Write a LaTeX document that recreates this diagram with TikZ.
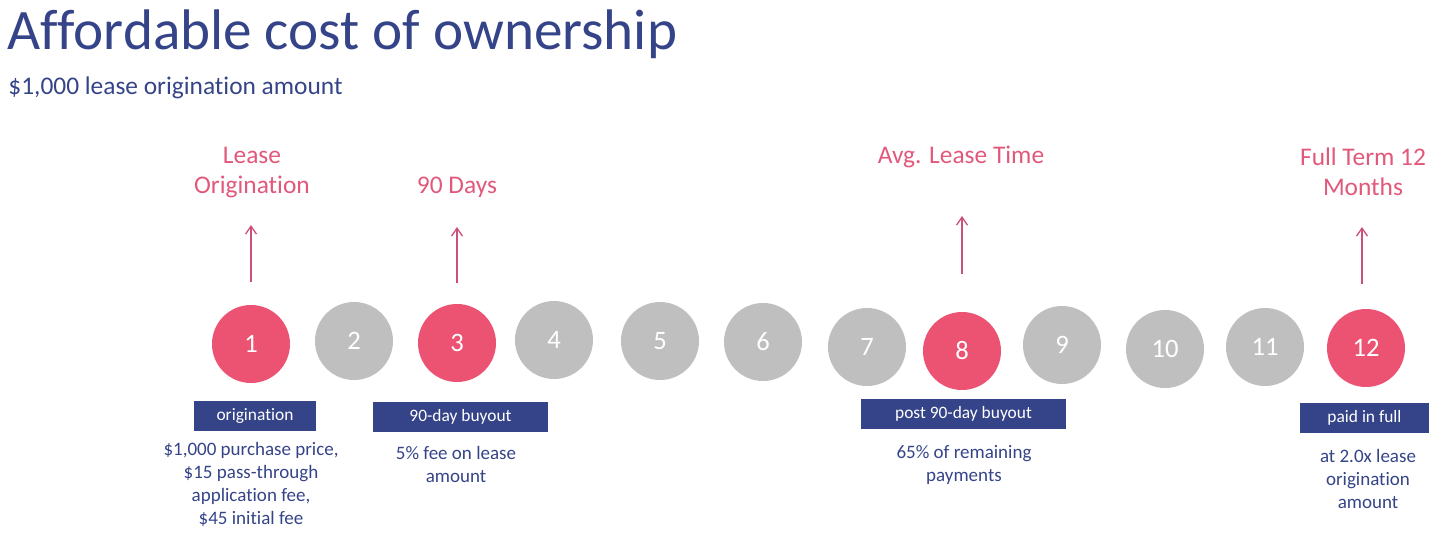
\documentclass[tikz,border=0pt]{standalone}
\usepackage{fontspec}
\setmainfont{Carlito}[Ligatures=NoCommon]
\usetikzlibrary{arrows.meta}

\definecolor{navy}{RGB}{53,68,136}
\definecolor{rose}{RGB}{236,82,114}
\definecolor{roseText}{RGB}{226,88,122}
\definecolor{roseLine}{RGB}{204,80,124}
\definecolor{stone}{RGB}{191,191,191}

\tikzset{
	month/.style 	= {circle, minimum size=39pt, inner sep=0pt, text=white,
		font=\fontsize{13.3}{16}\selectfont},
	hot/.style 		= {month, fill=rose},
	cold/.style 	= {month, fill=stone},
	milestone/.style = {text=roseText, align=center, inner sep=0pt,
		font=\fontsize{12.7}{15}\selectfont},
	tag/.style 		= {fill=navy, text=white, minimum height=15pt, inner sep=0pt,
		text height=6.2pt, text depth=1.8pt, font=\fontsize{8.7}{10}\selectfont},
	note/.style 	= {text=navy, align=center, inner sep=0pt,
		font=\fontsize{9.5}{11.5}\selectfont},
	pointer/.style 	= {draw=roseLine, line width=0.65pt,
		-{Straight Barb[length=4pt,width=5.5pt]}}
}

\begin{document}
\begin{tikzpicture}[x=0.5pt,y=-0.5pt]
			%\draw[help lines] (0,0) grid (1453,537);
			\useasboundingbox (0,0) rectangle (1453,537);
			
			\node[anchor=base west, inner sep=0pt, text=navy,
			font=\fontsize{28.6}{32}\selectfont] (title) at (7,49) {Affordable cost of ownership};
			\node[anchor=base west, inner sep=0pt, text=navy,
			font=\fontsize{12.7}{15}\selectfont] (subtitle) at (8,94) {\$1,000 lease origination amount};
			
			% months
			\node[hot]  (c1)  at (251,344)  {1};
			\node[cold] (c2)  at (354,341)  {2};
			\node[hot]  (c3)  at (457,343)  {3};
			\node[cold] (c4)  at (554,340)  {4};
			\node[cold] (c5)  at (660,341)  {5};
			\node[cold] (c6)  at (763,342)  {6};
			\node[cold] (c7)  at (867,347)  {7};
			\node[hot]  (c8)  at (962,351)  {8};
			\node[cold] (c9)  at (1062,345) {9};
			\node[cold] (c10) at (1165,349) {10};
			\node[cold] (c11) at (1265,347) {11};
			\node[hot]  (c12) at (1366,348) {12};
			
			% milestones (base = last line)
			\node[milestone, anchor=base] (m1)  at (252,193)  {Lease\\Origination};
			\node[milestone, anchor=base] (m3)  at (457,193)  {90 Days};
			\node[milestone, anchor=base] (m8)  at (961,163)  {Avg. Lease Time};
			\node[milestone, anchor=base] (m12) at (1363,195) {Full Term 12\\Months};
			
			\coordinate (p1s)  at (251,282);  \coordinate (p1e)  at (251,225);
			\coordinate (p3s)  at (457,283);  \coordinate (p3e)  at (457,227);
			\coordinate (p8s)  at (962,274);  \coordinate (p8e)  at (962,216);
			\coordinate (p12s) at (1362,284); \coordinate (p12e) at (1362,227);
			
			\draw[pointer] (p1s) -- (p1e);
			\draw[pointer] (p3s) -- (p3e);
			\draw[pointer] (p8s) -- (p8e);
			\draw[pointer] (p12s) -- (p12e);
			
			% payment options
			\node[tag, minimum width=61pt]   (t1)  at (255,416)    {origination};
			\node[tag, minimum width=87.5pt] (t3)  at (460.5,417)  {90-day buyout};
			\node[tag, minimum width=102.5pt](t8)  at (963.5,414)  {post 90-day buyout};
			\node[tag, minimum width=64.5pt] (t12) at (1364.5,418) {paid in full};
			
			\node[note, anchor=base] (n1)  at (251,524)  {\$1,000 purchase price,\\\$15 pass-through\\application fee,\\\$45 initial fee};
			\node[note, anchor=base] (n3)  at (456,482)  {5\% fee on lease\\amount};
			\node[note, anchor=base] (n8)  at (964,481)  {65\% of remaining\\payments};
			\node[note, anchor=base] (n12) at (1368,508) {at 2.0x lease\\origination\\amount};
\end{tikzpicture}
\end{document}
